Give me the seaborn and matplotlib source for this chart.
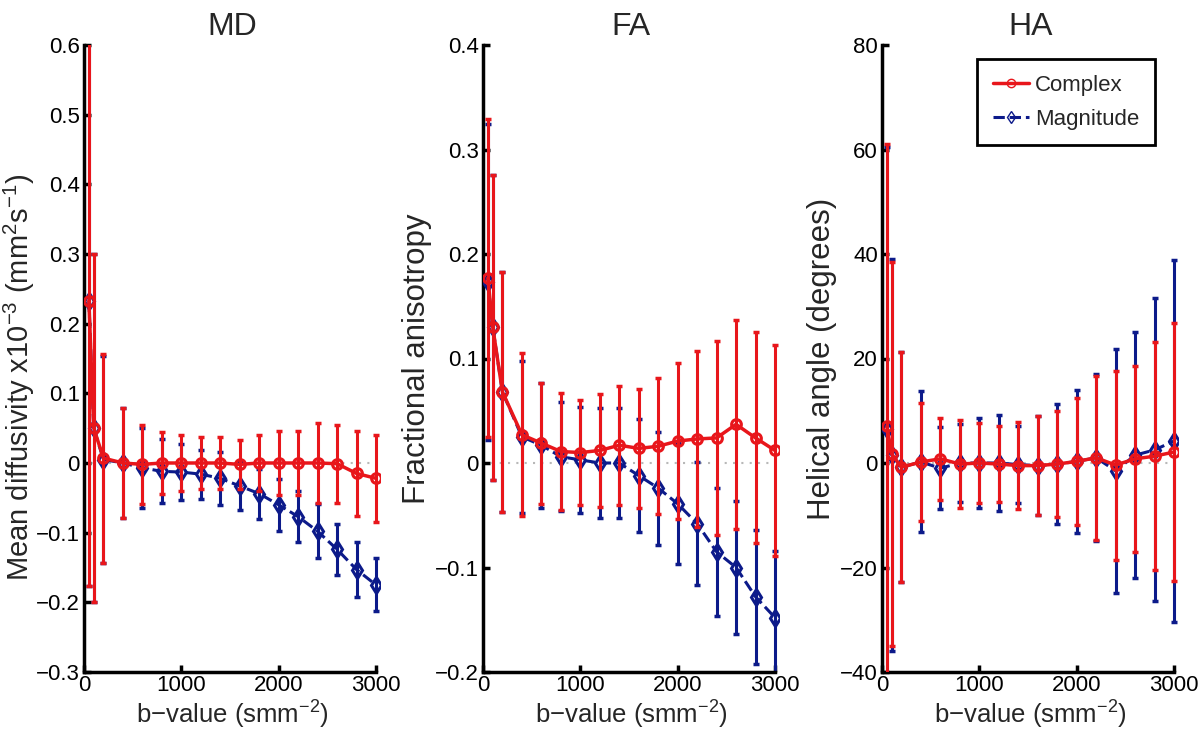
import numpy as np
import matplotlib
matplotlib.use("Agg")
import matplotlib.pyplot as plt
import seaborn as sns
from matplotlib.ticker import FuncFormatter

# b-values (s/mm^2)
bvals = [50, 100, 200, 400, 600, 800, 1000, 1200, 1400, 1600, 1800, 2000, 2200, 2400, 2600, 2800, 3000]

# mean diffusivity
md_cplx = [0.233, 0.05, 0.007, 0.0, -0.002, 0.0, 0.0, 0.0, 0.0, -0.002, 0.0, 0.0, 0.0, 0.0, -0.001, -0.015, -0.022]
md_cplx_sd = [0.41, 0.25, 0.15, 0.079, 0.057, 0.044, 0.040, 0.037, 0.038, 0.035, 0.040, 0.046, 0.046, 0.058, 0.056, 0.061, 0.062]
md_mag = [0.233, 0.05, 0.005, 0.0, -0.007, -0.012, -0.013, -0.016, -0.022, -0.033, -0.044, -0.06, -0.077, -0.098, -0.124, -0.153, -0.175]
md_mag_sd = [0.41, 0.25, 0.148, 0.079, 0.057, 0.046, 0.040, 0.035, 0.038, 0.034, 0.036, 0.037, 0.037, 0.039, 0.037, 0.040, 0.038]

# fractional anisotropy
fa_cplx = [0.177, 0.13, 0.068, 0.027, 0.019, 0.011, 0.010, 0.012, 0.017, 0.014, 0.016, 0.021, 0.023, 0.024, 0.037, 0.024, 0.012]
fa_cplx_sd = [0.152, 0.146, 0.115, 0.078, 0.058, 0.056, 0.050, 0.054, 0.057, 0.057, 0.065, 0.075, 0.084, 0.093, 0.100, 0.101, 0.101]
fa_mag = [0.173, 0.13, 0.068, 0.025, 0.017, 0.006, 0.003, 0.0, 0.0, -0.012, -0.024, -0.039, -0.058, -0.085, -0.100, -0.128, -0.148]
fa_mag_sd = [0.151, 0.146, 0.115, 0.073, 0.060, 0.052, 0.051, 0.053, 0.053, 0.054, 0.054, 0.058, 0.059, 0.061, 0.064, 0.064, 0.064]

# helical angle
ha_cplx = [7.0, 1.7, -0.8, 0.2, 0.8, -0.2, 0.0, -0.2, -0.5, -0.5, -0.2, 0.3, 1.0, -0.4, 0.8, 1.3, 2.1]
ha_cplx_sd = [54.0, 36.7, 22.0, 11.3, 7.8, 8.4, 7.7, 7.2, 8.3, 9.4, 10.2, 12.2, 15.7, 18.1, 17.8, 21.8, 24.6]
ha_mag = [6.5, 1.5, -0.8, 0.2, -1.0, 0.0, 0.0, 0.0, -0.3, -0.5, -0.2, 0.3, 1.0, -1.5, 1.5, 2.5, 4.2]
ha_mag_sd = [54.0, 37.5, 22.0, 13.5, 7.8, 7.5, 8.6, 9.2, 7.4, 9.4, 11.5, 13.7, 16.0, 23.4, 23.5, 29.0, 34.7]

titles = ["MD", "FA", "HA"]
ylabels = [r"Mean diffusivity x10$^{-3}$ (mm$^{2}$s$^{-1}$)",
           "Fractional anisotropy",
           "Helical angle (degrees)"]
xlabel = "b\u2212value (smm$^{-2}$)"

RED = "#e8161b"
BLUE = "#0c1a8a"

sns.set_style("white")
plt.rcParams["font.family"] = ["Liberation Sans", "DejaVu Sans"]
plt.rcParams["mathtext.fontset"] = "custom"
plt.rcParams["mathtext.rm"] = "Liberation Sans"
plt.rcParams["mathtext.it"] = "Liberation Sans:italic"
plt.rcParams["mathtext.bf"] = "Liberation Sans:bold"

XMAX = 3000
XPAD = 45  # a bit of room so the last error bar is not cut in half


def fmt(v, pos):
    s = "%g" % round(v, 6)
    return s.replace("-", "\u2212")


def panel(ax, cplx, cplx_sd, mag, mag_sd, ylim, yticks, title, ylab, lpad, ysize):
    ax.axhline(0, xmax=XMAX / (XMAX + XPAD), color="#b8b8b8", ls=(0, (1, 3)), lw=1.5, zorder=0)
    ax.errorbar(bvals, mag, yerr=mag_sd, fmt="none", ecolor=BLUE,
                elinewidth=2.2, capsize=2, capthick=2.5, zorder=2)
    sns.lineplot(x=bvals, y=mag, ax=ax, color=BLUE, lw=2.2, linestyle="--",
                 marker="d", ms=8, mfc="none", mec=BLUE, mew=2.2,
                 label="Magnitude", legend=False, zorder=3)
    ax.errorbar(bvals, cplx, yerr=cplx_sd, fmt="none", ecolor=RED,
                elinewidth=2.2, capsize=2, capthick=2.5, zorder=4)
    sns.lineplot(x=bvals, y=cplx, ax=ax, color=RED, lw=2.5,
                 marker="o", ms=7, mfc="none", mec=RED, mew=2.2,
                 label="Complex", legend=False, zorder=5)

    ax.set_xlim(0, XMAX + XPAD)
    ax.set_ylim(*ylim)
    ax.set_xticks([0, 1000, 2000, 3000])
    ax.set_yticks(yticks)
    ax.yaxis.set_major_formatter(FuncFormatter(fmt))
    ax.xaxis.set_major_formatter(FuncFormatter(fmt))
    ax.tick_params(axis="both", direction="in", length=5, width=2.5,
                   labelsize=16, bottom=True, left=True, top=False, right=False,
                   color="black", labelcolor="black")
    ax.tick_params(axis="y", pad=3)
    ax.tick_params(axis="x", pad=2)
    for side in ["top", "right"]:
        ax.spines[side].set_visible(False)
    for side in ["left", "bottom"]:
        ax.spines[side].set_color("black")
        ax.spines[side].set_linewidth(2.5)
    ax.spines["bottom"].set_bounds(0, XMAX)
    ax.set_title(title, fontsize=23, pad=7)
    ax.set_ylabel(ylab, fontsize=ysize, labelpad=lpad)
    ax.set_xlabel(xlabel, fontsize=18.5, labelpad=2)


fig = plt.figure(figsize=(12, 7.36), dpi=100)
lefts = [84 / 1200, 483 / 1200, 882 / 1200]
wpx = 292 * (XMAX + XPAD) / XMAX
w = wpx / 1200
b = 64 / 736
h = 627 / 736
axes = [fig.add_axes([l, b, w, h]) for l in lefts]

panel(axes[0], md_cplx, md_cplx_sd, md_mag, md_mag_sd, (-0.3, 0.6),
      np.round(np.linspace(-0.3, 0.6, 10), 2), titles[0], ylabels[0], 0, 21)
panel(axes[1], fa_cplx, fa_cplx_sd, fa_mag, fa_mag_sd, (-0.2, 0.4),
      np.round(np.linspace(-0.2, 0.4, 7), 2), titles[1], ylabels[1], 2, 22.5)
panel(axes[2], ha_cplx, ha_cplx_sd, ha_mag, ha_mag_sd, (-40, 80),
      np.linspace(-40, 80, 7), titles[2], ylabels[2], 2, 22.5)

# MD label sits close to the figure edge
axes[0].yaxis.set_label_coords((37 - 84) / wpx, (672 - 377) / 627)

# legend: Complex first, then Magnitude
ax = axes[2]
lines = {l.get_label(): l for l in ax.get_lines()}
bx = (1155 - 882) / wpx
leg = ax.legend([lines["Complex"], lines["Magnitude"]], ["Complex", "Magnitude"],
                loc="upper right", bbox_to_anchor=(bx, 1 - 14 / 627), borderaxespad=0,
                fontsize=16, fancybox=False, framealpha=1, edgecolor="black",
                handlelength=1.6, handletextpad=0.3, borderpad=0.7, labelspacing=0.6)
leg.get_frame().set_linewidth(2)
for hnd in leg.legend_handles:
    hnd.set_markersize(6)
    hnd.set_markeredgewidth(1)

fig.savefig("out.png", dpi=100)
